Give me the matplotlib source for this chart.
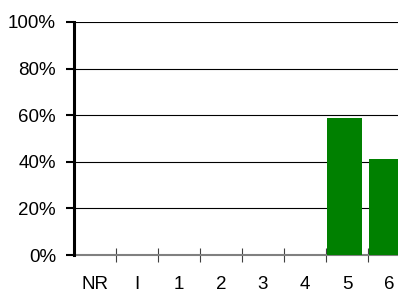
import matplotlib.pyplot as plt
from matplotlib.ticker import FixedLocator, PercentFormatter

# categories and values (percent)
kategori = ['NR', 'I', '1', '2', '3', '4', '5', '6']
nilai = [0, 0, 0, 0, 0, 0, 59, 41]
y_ticks = [0, 20, 40, 60, 80, 100]

plt.rcParams['font.family'] = ['Liberation Sans', 'DejaVu Sans']

fig = plt.figure(figsize=(3.98, 2.93), dpi=100)
ax = fig.add_axes([74 / 398, 1 - 255 / 293, 1 - 74 / 398, (255 - 22) / 293])

x = list(range(len(kategori)))
ax.bar([i - 0.06 for i in x], nilai, width=0.83, color='#008000', zorder=3)

ax.set_xlim(-0.5, -0.5 + (398 - 74) / 42)
ax.set_ylim(0, 100)

# grid
for v in y_ticks[1:]:
    ax.axhline(v, color='black', lw=0.8, zorder=1)

ax.set_yticks(y_ticks)
ax.yaxis.set_major_formatter(PercentFormatter(decimals=0))
ax.tick_params(axis='y', length=6, width=1.5, pad=7, labelsize=13.5, color='black')

ax.set_xticks(x)
ax.set_xticklabels(kategori)
ax.tick_params(axis='x', which='major', length=0, pad=15, labelsize=13.5)
ax.xaxis.set_minor_locator(FixedLocator([i + 0.5 for i in x]))
ax.tick_params(axis='x', which='minor', direction='inout', length=10, width=0.8, color='#404040')

for s in ['top', 'right']:
    ax.spines[s].set_visible(False)
ax.spines['left'].set_linewidth(2.2)
ax.spines['left'].set_zorder(5)
ax.spines['bottom'].set_color('#808080')
ax.spines['bottom'].set_linewidth(1.5)

fig.savefig('out.png', dpi=100)
